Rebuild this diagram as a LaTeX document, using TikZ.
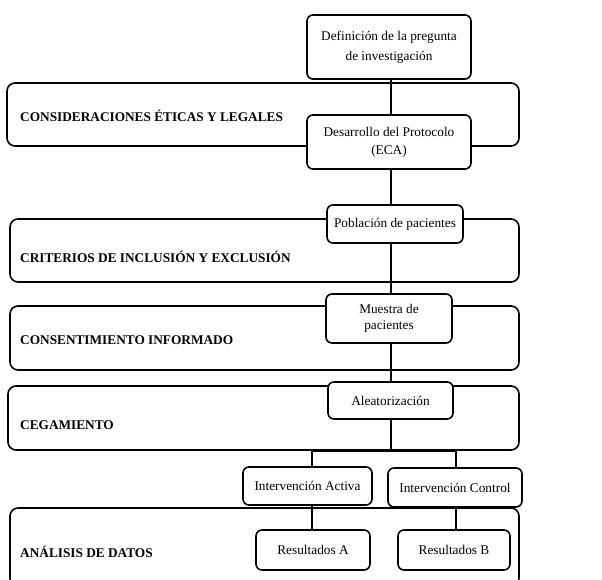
\documentclass[tikz,border=0pt]{standalone}
\usepackage{fontspec}
\setmainfont{Liberation Serif}
\begin{document}
\begin{tikzpicture}[x=1pt,y=-1pt,
  band/.style={draw, line width=1.6pt, rounded corners=8pt, fill=white, inner sep=0pt},
  stepbox/.style={draw, line width=1.6pt, rounded corners=6pt, fill=white, inner sep=0pt, align=center,
     font=\fontsize{13.3}{18}\selectfont},
  bandlabel/.style={anchor=west, inner sep=0pt, font=\fontsize{13.3}{16}\selectfont\bfseries},
  conn/.style={line width=1.6pt}]
\useasboundingbox (0,0) rectangle (602,579);
\begin{scope}
\clip (0,0) rectangle (602,579);
% bands
\node[band, minimum width=512pt, minimum height=63pt] (b1) at (263,114.5) {};
\node[band, minimum width=509pt, minimum height=63pt] (b2) at (264.5,250.5) {};
\node[band, minimum width=509pt, minimum height=64pt] (b3) at (264.5,338) {};
\node[band, minimum width=511pt, minimum height=64pt] (b4) at (263.5,418) {};
\node[band, minimum width=509pt, minimum height=78pt] (b5) at (264.5,547) {};
\end{scope}
\node[bandlabel] (l1) at (20,116) {CONSIDERACIONES ÉTICAS Y LEGALES};
\node[bandlabel] (l2) at (20,257) {CRITERIOS DE INCLUSIÓN Y EXCLUSIÓN};
\node[bandlabel] (l3) at (20,340) {CONSENTIMIENTO INFORMADO};
\node[bandlabel] (l4) at (20,425) {CEGAMIENTO};
\node[bandlabel] (l5) at (20,552) {ANÁLISIS DE DATOS};
% boxes
\node[stepbox, minimum width=164pt, minimum height=64pt] (def) at (389,47) {Definición de la pregunta\\[2pt]de investigación};
\node[stepbox, minimum width=164pt, minimum height=54pt] (des) at (389,142) {Desarrollo del Protocolo\\(ECA)};
\node[stepbox, minimum width=136pt, minimum height=38pt] (pob) at (395,224) {Población de pacientes};
\node[stepbox, minimum width=126pt, minimum height=49pt] (mue) at (389,318.5) {Muestra de\\[-2pt]pacientes};
\node[stepbox, minimum width=125pt, minimum height=37pt] (ale) at (390.5,400.5) {Aleatorización};
\node[stepbox, minimum width=129pt, minimum height=38pt] (act) at (307.5,486) {Intervención Activa};
\node[stepbox, minimum width=134pt, minimum height=39pt] (ctl) at (455,487.5) {Intervención Control};
\node[stepbox, minimum width=114pt, minimum height=40pt] (resA) at (313,550) {Resultados A};
\node[stepbox, minimum width=112pt, minimum height=40pt] (resB) at (454,550) {Resultados B};
% connectors
\coordinate (spine) at (391,0);
\coordinate (brA) at (312,0);
\coordinate (brB) at (456,0);
\draw[conn] (def.south -| spine) -- (des.north -| spine);
\draw[conn] (des.south -| spine) -- (pob.north -| spine);
\draw[conn] (pob.south -| spine) -- (mue.north -| spine);
\draw[conn] (mue.south -| spine) -- (ale.north -| spine);
\draw[conn] (ale.south -| spine) -- (spine |- b4.south);
\draw[conn] (act.north -| brA) -- (brA |- b4.south) -- (brB |- b4.south) -- (ctl.north -| brB);
\draw[conn] (act.south -| brA) -- (resA.north -| brA);
\draw[conn] (ctl.south -| brB) -- (resB.north -| brB);
\end{tikzpicture}
\end{document}
